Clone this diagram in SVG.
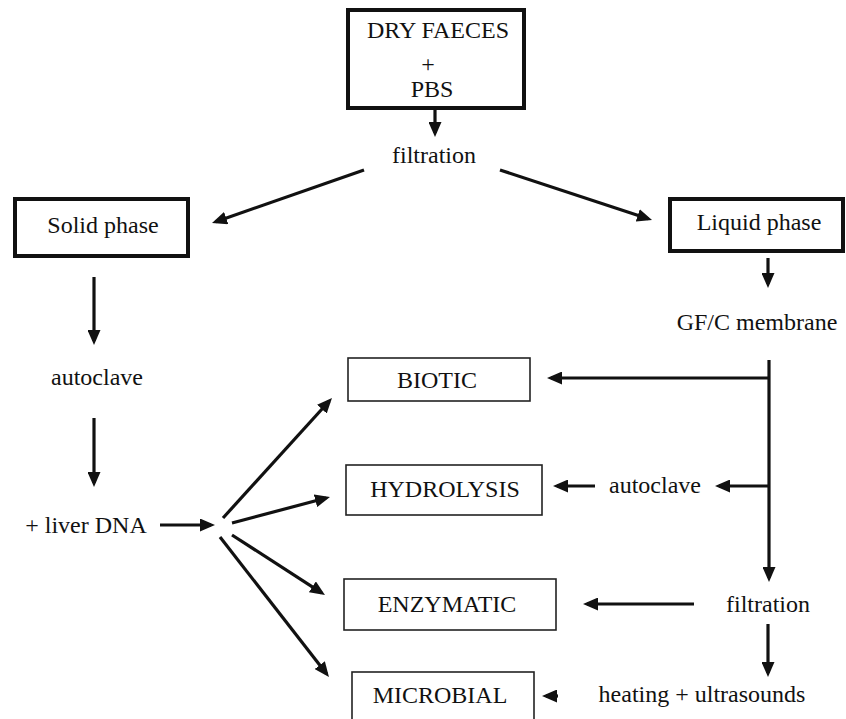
<svg xmlns="http://www.w3.org/2000/svg" width="846" height="719" viewBox="0 0 846 719">
<defs>
<style>
text{font-family:'Liberation Serif',serif;font-size:24px;fill:#111;text-anchor:middle}
.thick{fill:#fff;stroke:#111;stroke-width:4}
.thin{fill:#fff;stroke:#222;stroke-width:1.6}
.c line{stroke:#111;stroke-width:3.2;marker-end:url(#ah)}
</style>
<marker id="ah" markerUnits="userSpaceOnUse" markerWidth="15" markerHeight="13" refX="11" refY="6.5" orient="auto">
<path d="M0,0 L15,6.5 L0,13 z" fill="#111"/>
</marker>
</defs>
<rect width="846" height="719" fill="#fff"/>
<g id="connectors" class="c">
<line x1="435" y1="110" x2="435" y2="133"/>
<line x1="364" y1="170" x2="215.8" y2="221.7"/>
<line x1="500" y1="170" x2="648.2" y2="218.8"/>
<line x1="94" y1="277" x2="94" y2="341"/>
<line x1="94" y1="418" x2="94" y2="483"/>
<line x1="160" y1="525" x2="211" y2="525"/>
<line x1="223" y1="518" x2="329.3" y2="401"/>
<line x1="232" y1="523" x2="326.1" y2="498"/>
<line x1="232" y1="535" x2="321.6" y2="592.8"/>
<line x1="220" y1="537" x2="326.5" y2="673.8"/>
<line x1="768" y1="258" x2="768" y2="284"/>
<line x1="769" y1="360" x2="769" y2="578"/>
<line x1="770" y1="378" x2="551" y2="378"/>
<line x1="770" y1="486" x2="719" y2="486"/>
<line x1="595" y1="486" x2="557" y2="486"/>
<line x1="694" y1="604" x2="587" y2="604"/>
<line x1="768" y1="624" x2="768" y2="673"/>
<line x1="558" y1="696" x2="546" y2="696"/>
</g>
<g id="dry-faeces">
<rect class="thick" x="348" y="10" width="176" height="98"/>
<text x="438" y="38">DRY FAECES</text>
<text x="428" y="72">+</text>
<text x="432" y="97">PBS</text>
</g>
<g id="filtration-top"><text x="434" y="163">filtration</text></g>
<g id="solid-phase">
<rect class="thick" x="15" y="199" width="173" height="57"/>
<text x="103" y="233">Solid phase</text>
</g>
<g id="liquid-phase">
<rect class="thick" x="670" y="199" width="173" height="52"/>
<text x="759" y="230">Liquid phase</text>
</g>
<g id="gfc-membrane"><text x="757" y="330">GF/C membrane</text></g>
<g id="autoclave-left"><text x="97" y="385">autoclave</text></g>
<g id="liver-dna"><text x="86" y="533">+ liver DNA</text></g>
<g id="biotic">
<rect class="thin" x="348" y="358" width="182" height="43"/>
<text x="437" y="388">BIOTIC</text>
</g>
<g id="hydrolysis">
<rect class="thin" x="346" y="465" width="196" height="50"/>
<text x="445" y="497">HYDROLYSIS</text>
</g>
<g id="autoclave-right"><text x="655" y="493">autoclave</text></g>
<g id="enzymatic">
<rect class="thin" x="344" y="579" width="212" height="51"/>
<text x="447" y="612">ENZYMATIC</text>
</g>
<g id="filtration-right"><text x="768" y="612">filtration</text></g>
<g id="microbial">
<rect class="thin" x="352" y="672" width="182" height="52"/>
<text x="440" y="703">MICROBIAL</text>
</g>
<g id="heating"><text x="702" y="702">heating + ultrasounds</text></g>
</svg>
